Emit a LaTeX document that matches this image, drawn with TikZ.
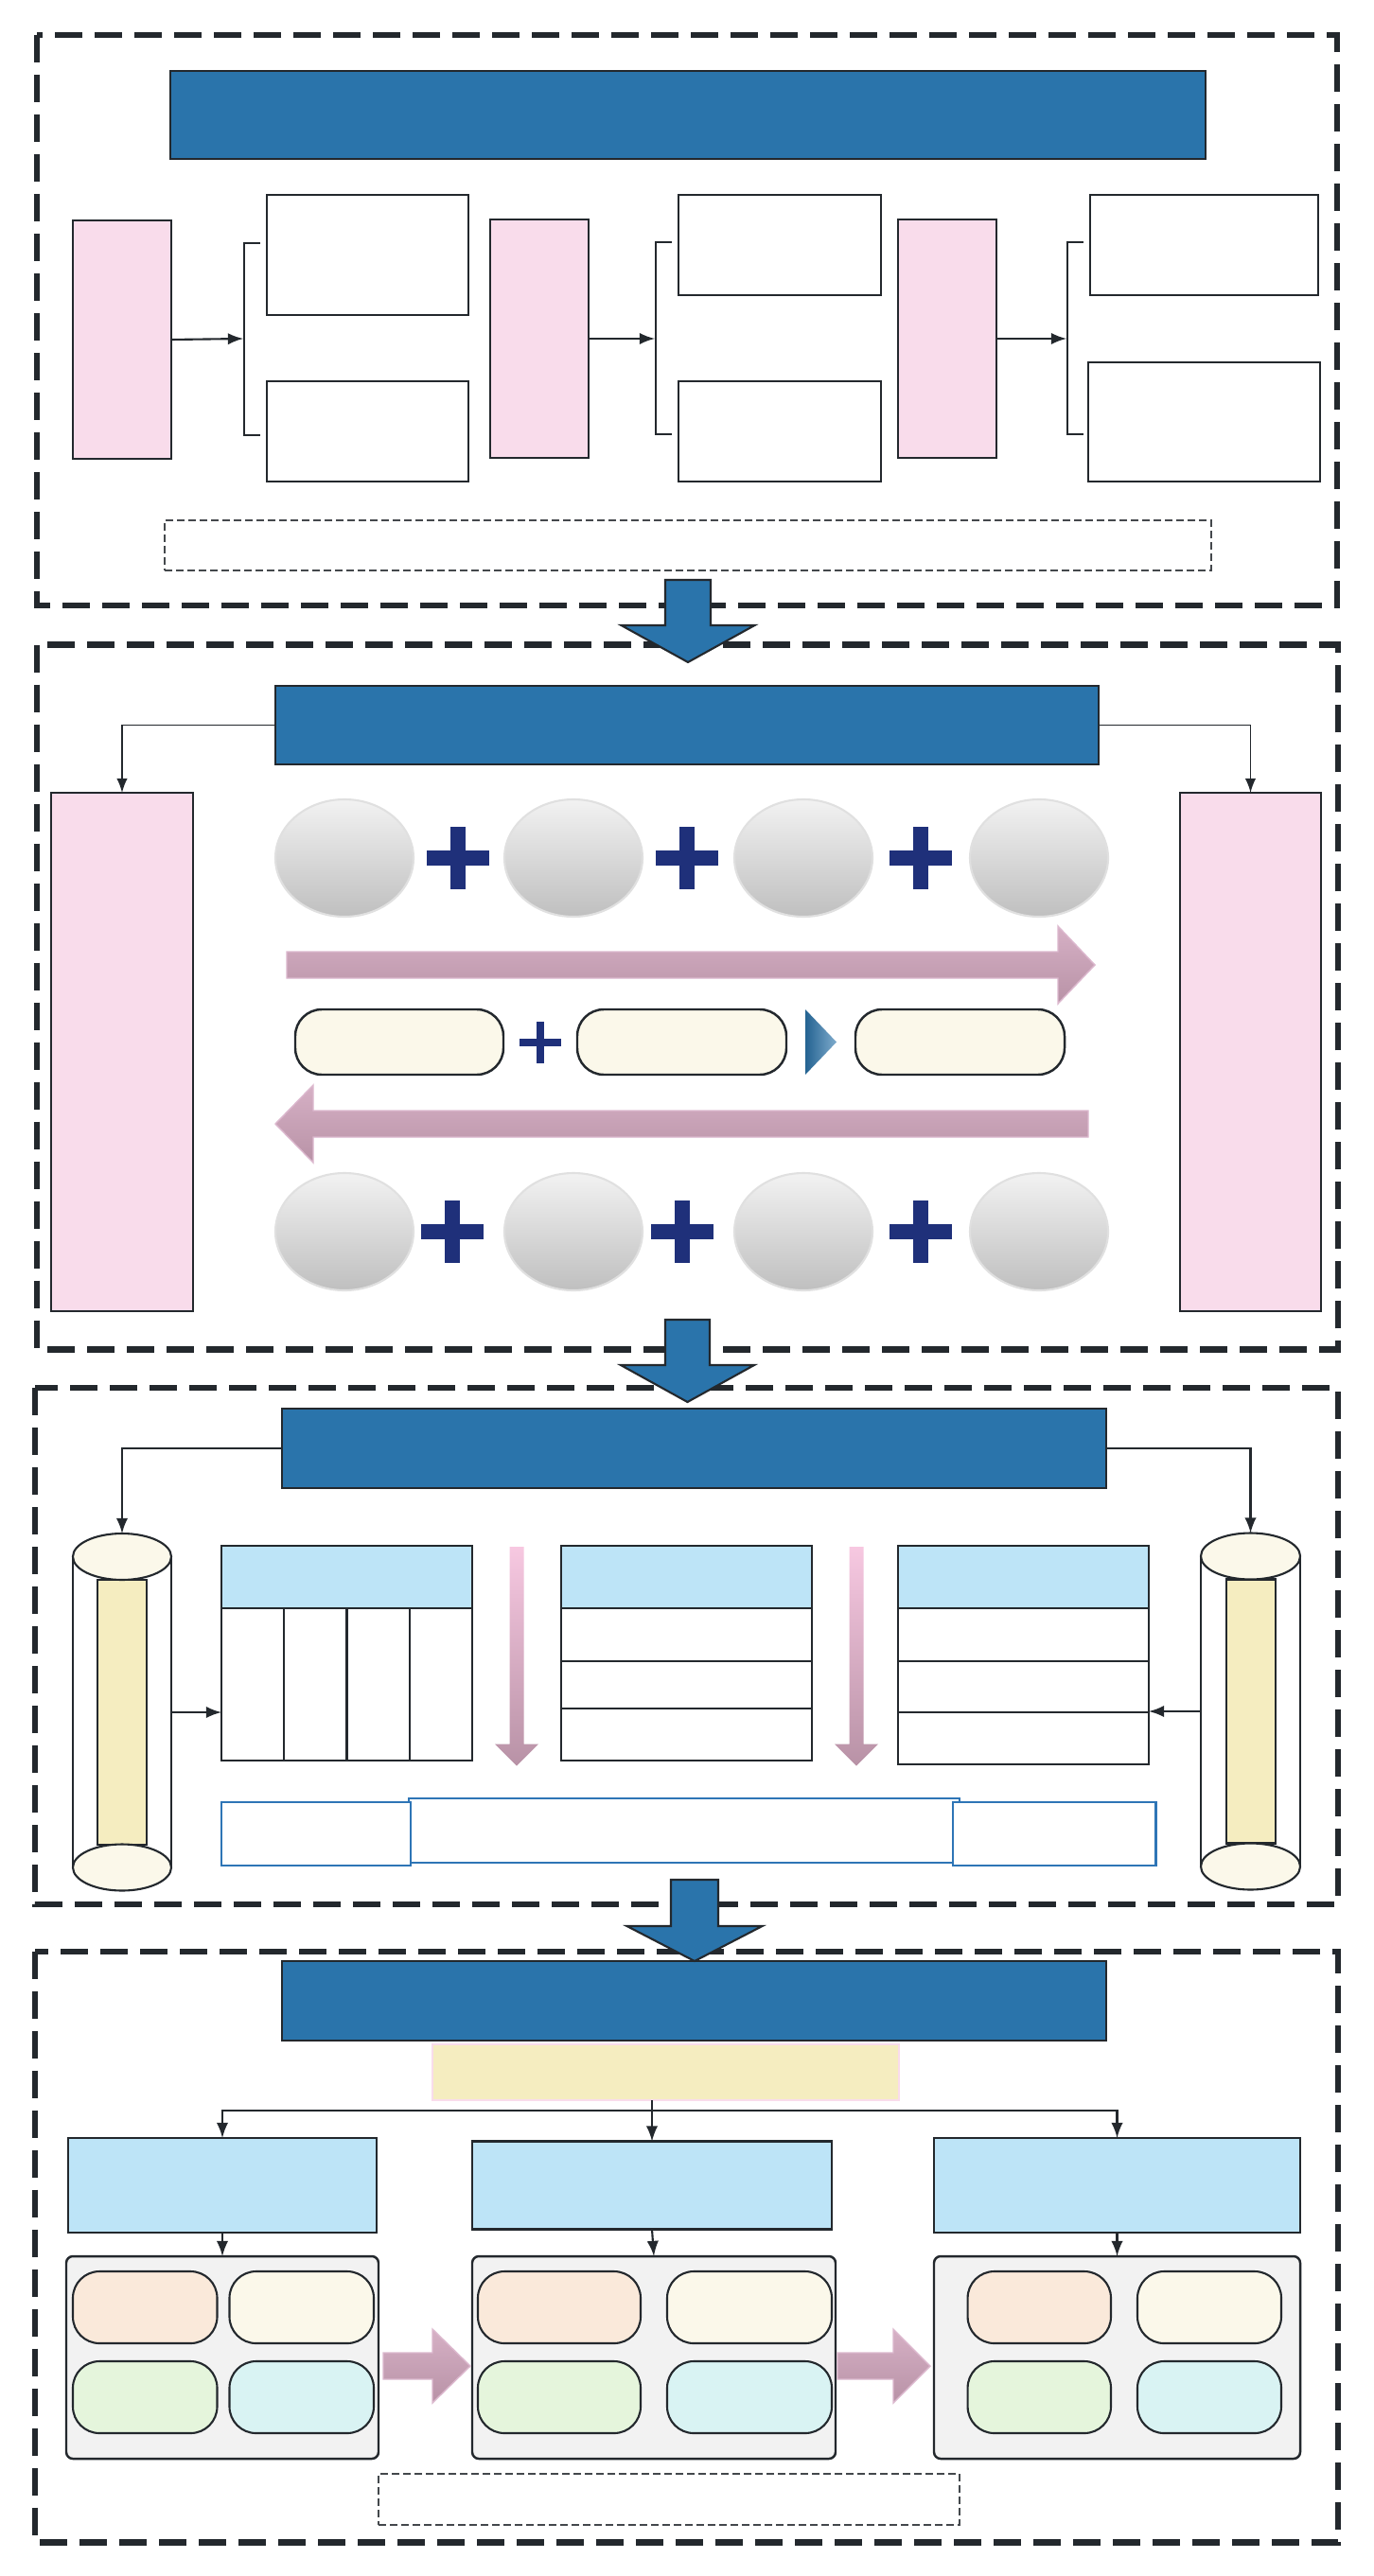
\documentclass[tikz,border=0pt]{standalone}
\usepackage{tikz}
\usetikzlibrary{arrows, shapes.geometric}

\definecolor{titleblue}{RGB}{42,116,171}
\definecolor{edge}{RGB}{35,40,45}
\definecolor{pinkfill}{RGB}{249,220,235}
\definecolor{skyfill}{RGB}{189,228,247}
\definecolor{creamfill}{RGB}{251,248,234}
\definecolor{strawfill}{RGB}{245,237,192}
\definecolor{peachfill}{RGB}{250,233,218}
\definecolor{mintfill}{RGB}{229,245,220}
\definecolor{aquafill}{RGB}{217,243,243}
\definecolor{panelfill}{RGB}{242,242,242}
\definecolor{plusblue}{RGB}{31,48,122}
\definecolor{mauvetop}{RGB}{214,176,197}
\definecolor{mauvebot}{RGB}{184,146,166}
\definecolor{mauveedge}{RGB}{220,184,206}
\definecolor{blushtop}{RGB}{247,200,225}
\definecolor{lineblue}{RGB}{46,117,182}

\tikzset{every node/.style={inner sep=0pt, outer sep=0pt},
  sz/.style 2 args={minimum width=#1cm, minimum height=#2cm},
  dashframe/.style={draw=edge, line width=1.8pt, dash pattern=on 0.29cm off 0.13cm},
  notebox/.style={draw=edge!85, line width=0.5pt, dash pattern=on 0.08cm off 0.04cm},
  titlebar/.style={draw=edge, fill=titleblue, line width=0.7pt},
  pinkbox/.style={draw=edge, fill=pinkfill, line width=0.6pt},
  plainbox/.style={draw=edge, fill=white, line width=0.6pt},
  skybox/.style={draw=edge, fill=skyfill, line width=0.6pt},
  capsule/.style={draw=edge, fill=creamfill, line width=0.7pt, rounded corners=8pt},
  chip/.style={draw=edge, fill=#1, line width=0.6pt, rounded corners=8pt},
  panel/.style={draw=edge, fill=panelfill, line width=0.7pt, rounded corners=2pt},
  gball/.style={ellipse, top color=panelfill, bottom color=black!25, draw=black!12, line width=0.6pt},
  lid/.style={ellipse, draw=edge, fill=creamfill, line width=0.6pt},
  blueline/.style={draw=lineblue, fill=white, line width=0.6pt},
  conn/.style={draw=edge, line width=0.6pt, -latex},
  bigdown/.style={draw=edge, fill=titleblue, line width=0.6pt},
  mauvearrow/.style={top color=mauvetop, bottom color=mauvebot, draw=mauveedge, line width=0.4pt},
  softdrop/.style={top color=blushtop, bottom color=mauvebot}}

\newcommand{\plusmark}[4]{\fill[plusblue] (#1-#3,#2-#4) rectangle (#1+#3,#2+#4);
  \fill[plusblue] (#1-#4,#2-#3) rectangle (#1+#4,#2+#3);}
\newcommand{\hblock}[6]{\path[mauvearrow] (#1,#4-#5) -- (#2,#4-#5) -- (#2,#4-#6) -- (#3,#4)
  -- (#2,#4+#6) -- (#2,#4+#5) -- (#1,#4+#5) -- cycle;}
\newcommand{\vblock}[7]{\path[#1] (#2-#6,#3) -- (#2+#6,#3) -- (#2+#6,#4) -- (#2+#7,#4) -- (#2,#5)
  -- (#2-#7,#4) -- (#2-#6,#4) -- cycle;}

\begin{document}
\begin{tikzpicture}
\useasboundingbox (0,0) rectangle (14.51,-27.23);

\draw[dashframe] (0.39,-0.37) rectangle (14.13,-6.40);
\node[titlebar, sz={10.94}{0.93}] (t1) at (7.27,-1.215) {};
\node[pinkbox, sz={1.04}{2.52}] (p1) at (1.29,-3.59) {};
\node[pinkbox, sz={1.04}{2.52}] (p2) at (5.70,-3.58) {};
\node[pinkbox, sz={1.04}{2.52}] (p3) at (10.01,-3.58) {};
\node[plainbox, sz={2.13}{1.27}] (b1a) at (3.885,-2.695) {};
\node[plainbox, sz={2.13}{1.06}] (b1b) at (3.885,-4.56) {};
\node[plainbox, sz={2.14}{1.06}] (b2a) at (8.24,-2.59) {};
\node[plainbox, sz={2.14}{1.06}] (b2b) at (8.24,-4.56) {};
\node[plainbox, sz={2.41}{1.06}] (b3a) at (12.725,-2.59) {};
\node[plainbox, sz={2.45}{1.26}] (b3b) at (12.725,-4.46) {};
\node[notebox, sz={11.06}{0.53}] (n1) at (7.27,-5.765) {};
\coordinate (k1) at (2.57,-3.58);
\coordinate (k2) at (6.92,-3.58);
\coordinate (k3) at (11.27,-3.58);
\draw[line width=0.6pt, edge] (2.75,-2.57) -- (2.58,-2.57) -- (2.58,-4.60) -- (2.75,-4.60);
\draw[line width=0.6pt, edge] (7.10,-2.56) -- (6.93,-2.56) -- (6.93,-4.59) -- (7.10,-4.59);
\draw[line width=0.6pt, edge] (11.45,-2.56) -- (11.28,-2.56) -- (11.28,-4.59) -- (11.45,-4.59);
\draw[conn] (p1.east) -- (k1);
\draw[conn] (p2.east) -- (k2);
\draw[conn] (p3.east) -- (k3);

\draw[dashframe] (0.39,-6.816) rectangle (14.14,-14.265);
\node[titlebar, sz={8.70}{0.83}] (t2) at (7.26,-7.665) {};
\node[pinkbox, sz={1.50}{5.48}] (pl) at (1.29,-11.12) {};
\node[pinkbox, sz={1.49}{5.48}] (pr) at (13.215,-11.12) {};
\draw[conn, line width=0.5pt] (t2.west) -| (pl.north);
\draw[conn, line width=0.5pt] (t2.east) -| (pr.north);
\foreach \x/\n in {3.64/1, 6.06/2, 8.49/3, 10.98/4} {
  \node[gball, sz={1.46}{1.24}] (ea\n) at (\x,-9.07) {};
  \node[gball, sz={1.46}{1.24}] (eb\n) at (\x,-13.02) {};
}
\foreach \x in {4.84,7.26,9.73} \plusmark{\x}{-9.07}{0.33}{0.08};
\foreach \x in {4.78,7.21,9.73} \plusmark{\x}{-13.02}{0.33}{0.08};
\hblock{3.03}{11.18}{11.57}{-10.20}{0.14}{0.41}
\hblock{11.50}{3.31}{2.91}{-11.88}{0.14}{0.41}
\node[capsule, sz={2.20}{0.69}] (c1) at (4.22,-11.015) {};
\node[capsule, sz={2.21}{0.69}] (c2) at (7.205,-11.015) {};
\node[capsule, sz={2.21}{0.69}] (c3) at (10.145,-11.015) {};
\plusmark{5.71}{-11.015}{0.22}{0.04}
\path[left color=titleblue!85!black, right color=titleblue!60] (8.51,-10.67) -- (8.84,-11.015) -- (8.51,-11.36) -- cycle;

\draw[dashframe] (0.37,-14.67) rectangle (14.14,-20.13);
\node[titlebar, sz={8.71}{0.84}] (t3) at (7.335,-15.31) {};
\node[plainbox, sz={1.04}{3.285}] (clb) at (1.29,-18.10) {};
\node[draw=edge, fill=strawfill, line width=0.6pt, sz={0.52}{2.80}] (cly) at (1.29,-18.10) {};
\node[lid, sz={1.04}{0.49}] (cla) at (1.29,-16.455) {};
\node[lid, sz={1.04}{0.49}] (clz) at (1.29,-19.74) {};
\node[plainbox, sz={1.05}{3.285}] (crb) at (13.215,-18.09) {};
\node[draw=edge, fill=strawfill, line width=0.6pt, sz={0.52}{2.79}] (cry) at (13.22,-18.09) {};
\node[lid, sz={1.05}{0.49}] (cra) at (13.215,-16.45) {};
\node[lid, sz={1.05}{0.49}] (crz) at (13.215,-19.73) {};
\draw[conn] (t3.west) -| (cla.north);
\draw[conn] (t3.east) -| (cra.north);
\node[skybox, sz={2.65}{0.66}] (tb1h) at (3.665,-16.67) {};
\node[plainbox, sz={2.65}{1.61}] (tb1b) at (3.665,-17.805) {};
\node[skybox, sz={2.65}{0.66}] (tb2h) at (7.255,-16.67) {};
\node[plainbox, sz={2.65}{1.61}] (tb2b) at (7.255,-17.805) {};
\node[skybox, sz={2.65}{0.66}] (tb3h) at (10.815,-16.67) {};
\node[plainbox, sz={2.65}{1.65}] (tb3b) at (10.815,-17.825) {};
\foreach \x in {3.0025,3.665,4.3275} \draw[edge, line width=0.6pt] (\x,-17.00) -- (\x,-18.61);
\foreach \y in {-17.557,-18.06} \draw[edge, line width=0.6pt] (5.93,\y) -- (8.58,\y);
\foreach \y in {-17.557,-18.10} \draw[edge, line width=0.6pt] (9.49,\y) -- (12.14,\y);
\draw[conn] (clb.east) -- (clb.east -| tb1b.west);
\draw[conn] (crb.west) -- (crb.west -| tb3b.east);
\vblock{softdrop}{5.46}{-16.35}{-18.437}{-18.667}{0.075}{0.23}
\vblock{softdrop}{9.05}{-16.35}{-18.437}{-18.667}{0.075}{0.23}
\node[blueline, sz={5.82}{0.68}] (bb) at (7.23,-19.35) {};
\node[blueline, sz={2.00}{0.67}] (ba) at (3.34,-19.385) {};
\node[blueline, sz={2.145}{0.67}] (bc) at (11.1425,-19.385) {};

\draw[dashframe] (0.37,-20.627) rectangle (14.14,-26.876);
\node[titlebar, sz={8.71}{0.84}] (t4) at (7.335,-21.15) {};
\node[fill=strawfill, draw=pinkfill, line width=0.6pt, sz={4.93}{0.59}] (s4) at (7.035,-21.905) {};
\node[skybox, sz={3.26}{1.00}] (m1) at (2.35,-23.10) {};
\node[skybox, sz={3.80}{0.93}] (m2) at (6.89,-23.10) {};
\node[skybox, sz={3.87}{1.00}] (m3) at (11.805,-23.10) {};
\node[panel, sz={3.30}{2.14}] (g1) at (2.35,-24.92) {};
\node[panel, sz={3.84}{2.14}] (g2) at (6.91,-24.92) {};
\node[panel, sz={3.87}{2.14}] (g3) at (11.805,-24.92) {};
\foreach \x/\w/\n in {1.5325/1.525/1, 5.91/1.72/2, 10.983/1.514/3} {
  \node[chip=peachfill, sz={\w}{0.76}] (q\n a) at (\x,-24.39) {};
  \node[chip=mintfill, sz={\w}{0.76}] (q\n c) at (\x,-25.34) {};
}
\foreach \x/\w/\n in {3.1875/1.525/1, 7.92/1.74/2, 12.78/1.52/3} {
  \node[chip=creamfill, sz={\w}{0.76}] (q\n b) at (\x,-24.39) {};
  \node[chip=aquafill, sz={\w}{0.76}] (q\n d) at (\x,-25.34) {};
}
\coordinate (hub) at (6.89,-22.31);
\draw[edge, line width=0.6pt] (hub |- s4.south) -- (hub);
\draw[conn] (hub) -- (m2.north);
\draw[conn] (hub) -| (m1.north);
\draw[conn] (hub) -| (m3.north);
\draw[conn] (m1.south) -- (g1.north);
\draw[conn] (m2.south) -- (g2.north);
\draw[conn] (m3.south) -- (g3.north);
\hblock{4.05}{4.57}{4.97}{-25.01}{0.14}{0.39}
\hblock{8.85}{9.44}{9.83}{-25.01}{0.14}{0.39}
\node[notebox, sz={6.14}{0.54}] (n4) at (7.07,-26.42) {};

\vblock{bigdown}{7.27}{-6.13}{-6.61}{-7.00}{0.24}{0.705}
\vblock{bigdown}{7.265}{-13.95}{-14.43}{-14.82}{0.235}{0.705}
\vblock{bigdown}{7.34}{-19.87}{-20.36}{-20.73}{0.25}{0.715}
\end{tikzpicture}
\end{document}
